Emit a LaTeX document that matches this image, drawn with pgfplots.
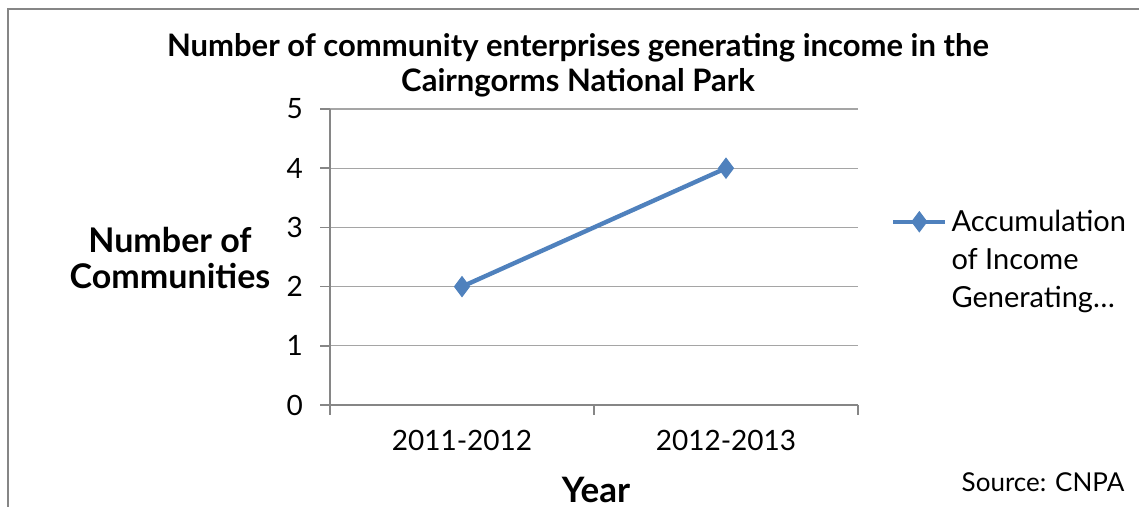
\documentclass[border=0pt]{standalone}
\usepackage{fontspec}
\setmainfont{Lato}
\usepackage{pgfplots}
\pgfplotsset{compat=1.18}
\definecolor{serblue}{RGB}{79,129,189}
\definecolor{framegray}{RGB}{134,134,134}
\definecolor{gridgray}{RGB}{165,165,165}
\begin{document}
\begin{tikzpicture}
\useasboundingbox (0,0) rectangle (569.5pt,253.5pt);
\draw[framegray, line width=1.3pt] (4pt,249pt) rectangle (600pt,-20pt);
\begin{axis}[
  at={(165pt,51pt)}, anchor=south west,
  scale only axis, width=264pt, height=148pt,
  xmin=0, xmax=2, ymin=0, ymax=5,
  xtick={0,1,2}, xticklabels={},
  extra x ticks={0.5,1.5},
  extra x tick labels={2011-2012,2012-2013},
  extra x tick style={major tick length=0pt, grid=none},
  ytick={0,1,2,3,4,5},
  axis lines=left, axis line style={-, draw=framegray, line width=0.8pt},
  tick style={draw=framegray, line width=0.8pt},
  tick align=outside, major tick length=5pt,
  ymajorgrids, grid style={draw=gridgray, line width=0.7pt},
  /pgf/number format/assume math mode=true,
  ticklabel style={font=\fontsize{14}{16}\selectfont},
  xticklabel style={yshift=-9pt},
  yticklabel style={xshift=-5pt},
  legend cell align=left,
  legend style={at={(1.062,0.69)}, anchor=north west, draw=none,
    inner sep=0pt, font=\fontsize{14.5}{19}\selectfont,
    cells={anchor=base west, inner xsep=1.5pt}},
  legend image code/.code={%
    \draw[mark repeat=2,mark phase=2,#1] plot coordinates {(0pt,5pt) (13pt,5pt) (26pt,5pt)};},
]
\addplot[serblue, line width=2.2pt, mark=diamond*, mark size=5pt,
  mark options={fill=serblue, line width=0.5pt}] coordinates {(0.5,2) (1.5,4)};
\addlegendentry{\begin{tabular}[t]{@{}l@{}}Accumulation\\of Income\\Generating\ldots\end{tabular}}
\end{axis}
\node[font=\bfseries\fontsize{15.5}{17.5}\selectfont, align=center] at (289pt,221pt)
  {Number of community enterprises generating income in the\\Cairngorms National Park};
\node[font=\bfseries\fontsize{17}{18}\selectfont, align=center] at (85pt,124.5pt)
  {Number of\\Communities};
\node[font=\bfseries\fontsize{17.5}{19}\selectfont] at (298pt,8.5pt) {Year};
\node[font=\fontsize{13}{15}\selectfont] at (521.5pt,12.5pt) {Source: CNPA};
\end{tikzpicture}
\end{document}
